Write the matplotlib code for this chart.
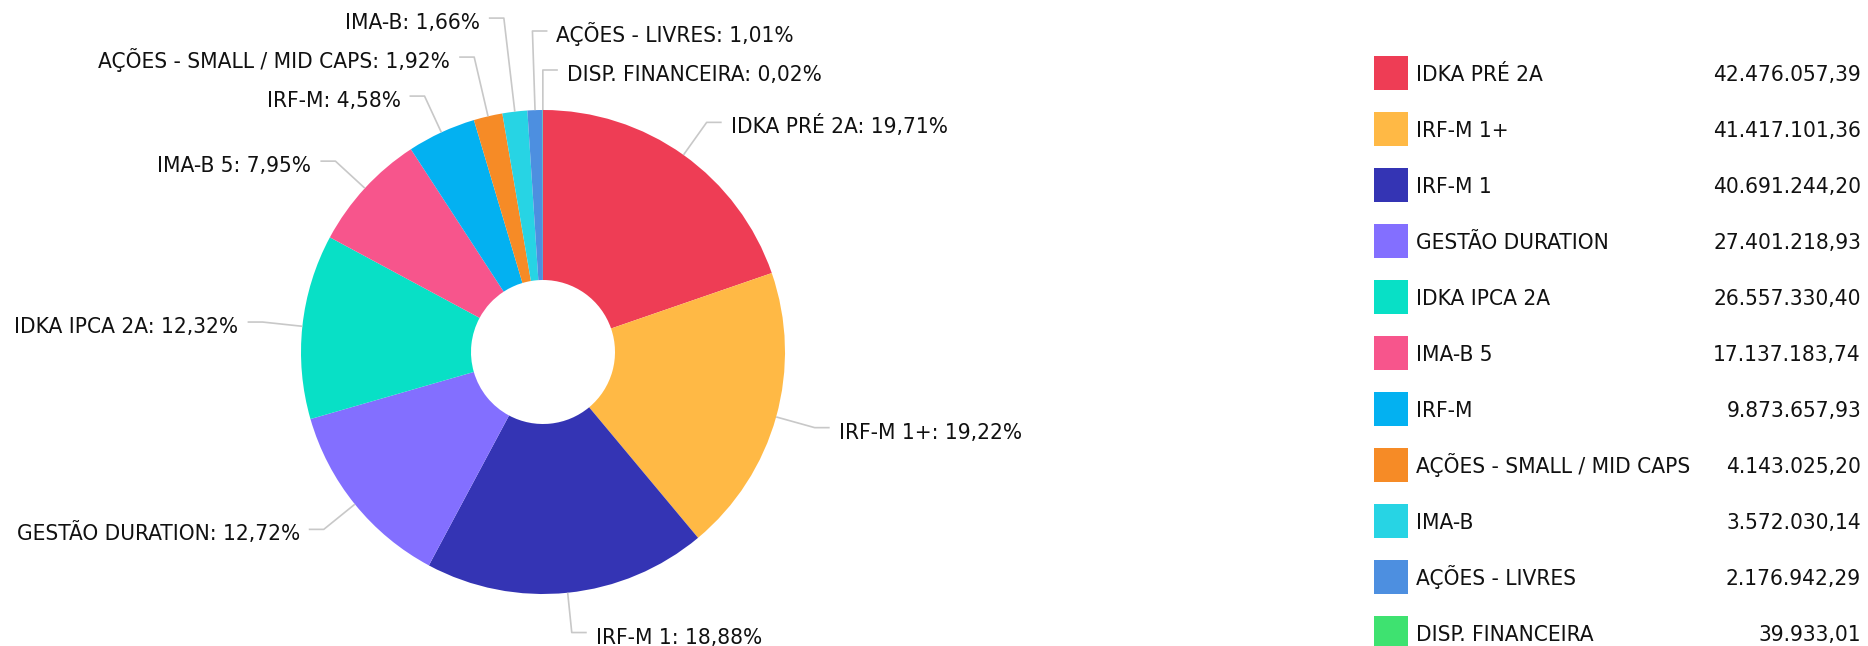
import numpy as np
import matplotlib
matplotlib.use('Agg')
import matplotlib.pyplot as plt
from matplotlib.patches import Rectangle

# ---------------------------------------------------
# DATA
# ---------------------------------------------------
categories = ['IDKA PRÉ 2A', 'IRF-M 1+', 'IRF-M 1', 'GESTÃO DURATION', 'IDKA IPCA 2A',
              'IMA-B 5', 'IRF-M', 'AÇÕES - SMALL / MID CAPS', 'IMA-B', 'AÇÕES - LIVRES',
              'DISP. FINANCEIRA']
values = [42476057.39, 41417101.36, 40691244.20, 27401218.93, 26557330.40,
          17137183.74, 9873657.93, 4143025.20, 3572030.14, 2176942.29, 39933.01]
colors = ['#ee3d55', '#ffb945', '#3434b4', '#836fff', '#08e0c6', '#f7558c',
          '#03b1f1', '#f68b26', '#27d4e4', '#4d8fe0', '#3ee270']


def fmt_br(v, dec=2):
    s = f"{v:,.{dec}f}"
    return s.replace(',', 'X').replace('.', ',').replace('X', '.')


# ---------------------------------------------------
# FIGURE (pixel coordinates, y up)
# ---------------------------------------------------
W, H = 1868, 646
fig = plt.figure(figsize=(W / 100, H / 100), dpi=100)
fig.patch.set_facecolor('white')
ax = fig.add_axes([0, 0, 1, 1])

FONT = dict(family='DejaVu Sans', fontstretch='condensed', fontsize=16.2, color='#111111')

cx, cy = 543, H - 352
r, hole = 242, 72

wedges, _ = ax.pie(values, colors=colors, startangle=90, counterclock=False,
                   radius=r, center=(cx, cy),
                   wedgeprops=dict(width=r - hole, linewidth=0))

ax.set_xlim(0, W)
ax.set_ylim(0, H)
ax.set_aspect('equal')
ax.axis('off')

# ---------------------------------------------------
# DATA LABELS WITH CONNECTORS
# ---------------------------------------------------
total = sum(values)
R = r + 40
spacing = 39

labels = []
for i, w in enumerate(wedges):
    mid = np.radians((w.theta1 + w.theta2) / 2)
    side = 1 if np.cos(mid) > -0.05 else -1
    labels.append(dict(i=i, th=mid, side=side, y=cy + R * np.sin(mid)))


def norm_right(a):
    d = np.degrees(a) % 360
    return d - 360 if d > 180 else d


right = sorted([l for l in labels if l['side'] == 1], key=lambda l: -norm_right(l['th']))
left = sorted([l for l in labels if l['side'] == -1], key=lambda l: np.degrees(l['th']) % 360)

# push crowded labels upwards
for group in (right, left):
    for k in range(len(group) - 2, -1, -1):
        group[k]['y'] = max(group[k]['y'], group[k + 1]['y'] + spacing)

for l in labels:
    th, side, ly = l['th'], l['side'], l['y']
    px, py = cx + r * np.cos(th), cy + r * np.sin(th)
    s = np.sin(th)
    t = (ly - py) / s if abs(s) > 0.05 else 30
    t = float(np.clip(t, 5, 100))
    bx = px + t * np.cos(th)
    hx = bx + side * 15
    ax.plot([px, bx, hx], [py, ly, ly], color='#c8c8c8', lw=1.2,
            solid_capstyle='butt', zorder=1)
    i = l['i']
    pct = fmt_br(values[i] / total * 100) + '%'
    ax.text(hx + side * 9, ly - 11, f"{categories[i]}: {pct}",
            ha='left' if side == 1 else 'right', va='baseline', **FONT)

# ---------------------------------------------------
# LEGEND
# ---------------------------------------------------
for i, (name, val, c) in enumerate(zip(categories, values, colors)):
    row = H - (73 + 56 * i)
    ax.add_patch(Rectangle((1374, row - 17), 34, 34, facecolor=c, edgecolor='none'))
    ax.text(1416, row - 8, name, ha='left', va='baseline', **FONT)
    ax.text(1861, row - 8, fmt_br(val), ha='right', va='baseline', **FONT)

fig.savefig('out.png', dpi=100, facecolor='white')
